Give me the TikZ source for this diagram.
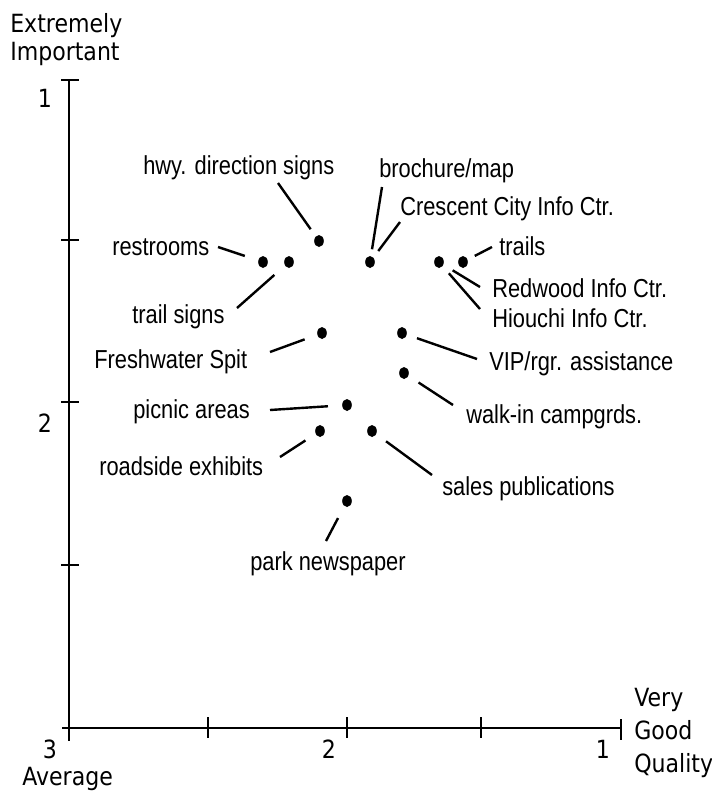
\documentclass[tikz,border=0pt]{standalone}
\usepackage{fontspec}
\setmainfont{Liberation Sans}[FakeStretch=0.84]
\newfontfamily\axisfont{DejaVu Sans}[FakeStretch=0.88]
\usetikzlibrary{shapes.geometric}

\tikzset{
    itemdot/.style={ellipse, fill, inner sep=0pt, minimum width=7.2pt, minimum height=9pt},
    itemlabel/.style={anchor=base west, inner sep=0pt, font=\fontsize{19.5}{22}\selectfont},
    axislabel/.style={anchor=base west, inner sep=0pt, font=\axisfont\fontsize{18.8}{20}\selectfont},
    axisnum/.style={axislabel, anchor=base},
    axisline/.style={line width=2.2pt},
    lead/.style={line width=1.8pt},
}

\begin{document}
\begin{tikzpicture}[x=0.75pt, y=-0.75pt]
        \useasboundingbox (0,0) rectangle (712,794);

        % Ejes
        \draw[axisline] (69,80) -- (69,741);
        \draw[axisline] (62,728) -- (621,728);
        \foreach \y in {80,240,402,565} {
            \draw[axisline] (61,\y) -- (79,\y);
        }
        \foreach \x in {208,347,481} {
            \draw[axisline] (\x,717) -- (\x,738);
        }
        \draw[axisline] (621,719) -- (621,740);

        % Rotulos de los ejes
        \node[axislabel] (impTop) at (10,32) {Extremely};
        \node[axislabel] (impTop2) at (10,60) {Important};
        \node[axislabel] (qualLow) at (22,785) {Average};
        \node[axislabel] (qualTop) at (634,706) {Very};
        \node[axislabel] (qualTop2) at (634,739) {Good};
        \node[axislabel] (qualTop3) at (634,772) {Quality};
        \foreach \n/\x/\y/\val in {
            yOne/45/107/1,
            yTwo/45/432/2,
            xThree/50/758/3,
            xTwo/329/758/2,
            xOne/603/758/1
            } {
            \node[axisnum] (\n) at (\x,\y) {\val};
        }

        % Puntos
        \foreach \d/\x/\y in {
            hwy/319/241, rest/263/262, tsign/289/262, broch/370/262,
            redw/439/262, trails/463/262, fresh/322/333, vip/402/333,
            walk/404/373, picnic/347/405, road/320/431, sales/372/431,
            news/347/501
            } {
            \node[itemdot] (d\d) at (\x,\y) {};
        }

        % Etiquetas
        \foreach \n/\x/\y/\val in {
            hwy/143/174/hwy. direction signs,
            broch/379/177/{brochure/map},
            cres/400/215/Crescent City Info Ctr.,
            rest/112/255/restrooms,
            trails/499/255/trails,
            redw/492/297/Redwood Info Ctr.,
            hiou/492/327/Hiouchi Info Ctr.,
            tsign/132/323/trail signs,
            fresh/94/368/Freshwater Spit,
            vip/489/370/{VIP/rgr. assistance},
            walk/466/423/walk-in campgrds.,
            picnic/133/418/picnic areas,
            road/99/475/roadside exhibits,
            sales/442/495/sales publications,
            news/250/570/park newspaper
            } {
            \node[itemlabel] (l\n) at (\x,\y) {\val};
        }

        % Lineas guia
        \foreach \d/\t/\x/\y/\g in {
            hwy/hwy/278/183/6.5,
            rest/rest/218/247/10.5,
            tsign/tsign/237/308/10.5,
            broch/broch/382/187/5,
            broch/cres/400/222/6,
            trails/trails/492/247/6,
            redw/redw/480/287/8,
            redw/hiou/480/309/7,
            fresh/fresh/270/352/10,
            vip/vip/477/359/8,
            walk/walk/453/405/9,
            picnic/picnic/270/410/10.5,
            road/road/280/457/9,
            sales/sales/432/475/9,
            news/news/326/541/10
            } {
            \coordinate (t\t) at (\x,\y);
            \draw[lead, shorten <=\g pt] (d\d) -- (t\t);
        }
\end{tikzpicture}
\end{document}
